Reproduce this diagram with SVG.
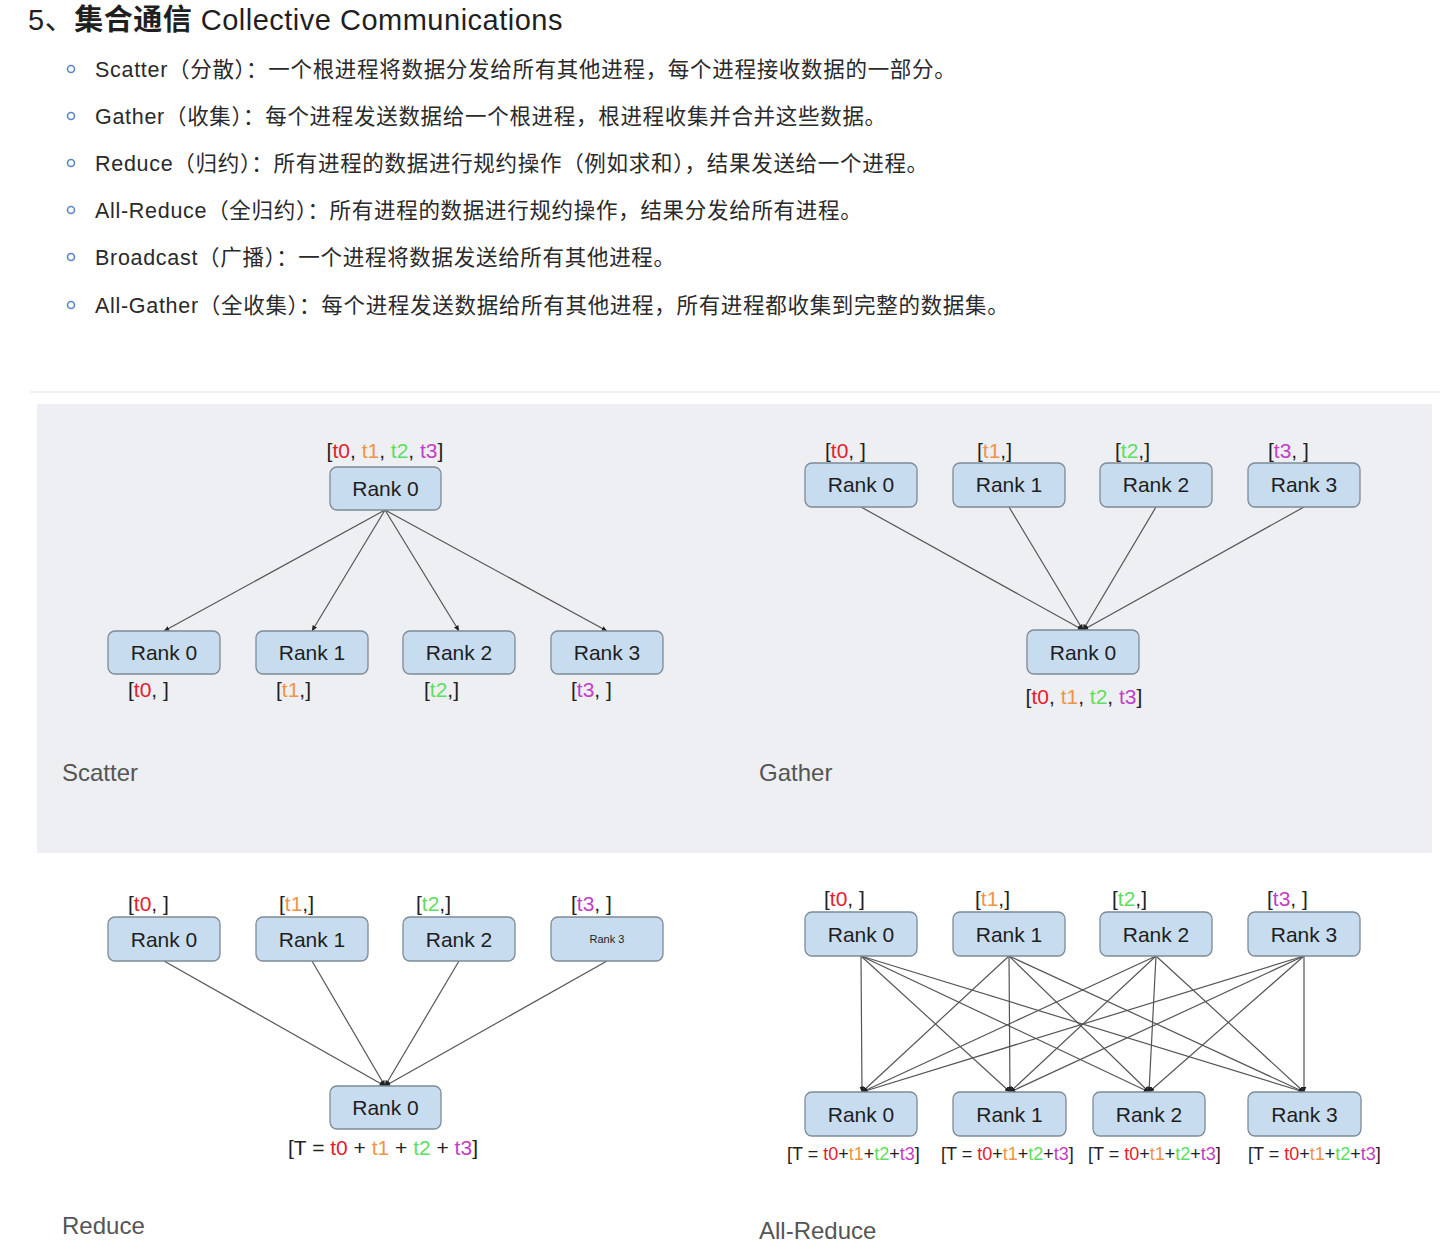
<svg xmlns="http://www.w3.org/2000/svg" width="1440" height="1255" viewBox="0 0 1440 1255">
<style>
.title{font-family:"Liberation Sans","Noto Sans CJK SC",sans-serif;font-size:29px;fill:#1f1f1f;letter-spacing:0.5px}
.bul{font-family:"Liberation Sans","Noto Sans CJK SC",sans-serif;font-size:21.5px;fill:#2a2a2a;letter-spacing:0.7px}
.dot{fill:none;stroke:#5a86c8;stroke-width:1.6}
.node rect{fill:#c7dcee;stroke:#7d8a97;stroke-width:1.3}
.node text{font-family:"Liberation Sans",Arial,sans-serif;font-size:21px;fill:#1e1e1e;text-anchor:middle}
.lbl{font-family:"Liberation Sans",Arial,sans-serif;font-size:21px;fill:#222}
.lbls{font-family:"Liberation Sans",Arial,sans-serif;font-size:18px;fill:#222}
.c0{fill:#e3202c}.c1{fill:#ef9447}.c2{fill:#5ede5e}.c3{fill:#c23ec6}
.sec{font-family:"Liberation Sans","Noto Sans",sans-serif;font-size:24px;fill:#555}
.edges line{stroke:#555;stroke-width:1.2;marker-end:url(#ah)}
</style>
<defs>
<marker id="ah" markerWidth="6" markerHeight="5" refX="5.5" refY="2.5" orient="auto" markerUnits="userSpaceOnUse">
<path d="M0,0 L6,2.5 L0,5 Z" fill="#222"/>
</marker>
</defs>
<rect x="0" y="0" width="1440" height="1255" fill="#ffffff"/>
<text class="title" x="28" y="30">5、<tspan font-weight="bold">集合通信</tspan> Collective Communications</text>
<g id="bullets">
<circle class="dot" cx="71" cy="69" r="3.5"/><text class="bul" x="95" y="77">Scatter（分散）：一个根进程将数据分发给所有其他进程，每个进程接收数据的一部分。</text>
<circle class="dot" cx="71" cy="116" r="3.5"/><text class="bul" x="95" y="124">Gather（收集）：每个进程发送数据给一个根进程，根进程收集并合并这些数据。</text>
<circle class="dot" cx="71" cy="163" r="3.5"/><text class="bul" x="95" y="171">Reduce（归约）：所有进程的数据进行规约操作（例如求和），结果发送给一个进程。</text>
<circle class="dot" cx="71" cy="210" r="3.5"/><text class="bul" x="95" y="218">All-Reduce（全归约）：所有进程的数据进行规约操作，结果分发给所有进程。</text>
<circle class="dot" cx="71" cy="257" r="3.5"/><text class="bul" x="95" y="265">Broadcast（广播）：一个进程将数据发送给所有其他进程。</text>
<circle class="dot" cx="71" cy="305" r="3.5"/><text class="bul" x="95" y="313">All-Gather（全收集）：每个进程发送数据给所有其他进程，所有进程都收集到完整的数据集。</text>
</g>
<rect x="30" y="391" width="1410" height="2" fill="#f1f1f3"/>
<rect x="37" y="404" width="1395" height="449" fill="#eeeff2"/>

<g class="edges" id="connectors">
<line x1="385" y1="510" x2="164" y2="631"/>
<line x1="385" y1="510" x2="312" y2="631"/>
<line x1="385" y1="510" x2="459" y2="631"/>
<line x1="385" y1="510" x2="607" y2="631"/>
<line x1="861" y1="507" x2="1083" y2="630"/>
<line x1="1009" y1="507" x2="1083" y2="630"/>
<line x1="1156" y1="507" x2="1083" y2="630"/>
<line x1="1304" y1="507" x2="1083" y2="630"/>
<line x1="164" y1="961" x2="385" y2="1086"/>
<line x1="312" y1="961" x2="385" y2="1086"/>
<line x1="459" y1="961" x2="385" y2="1086"/>
<line x1="607" y1="961" x2="385" y2="1086"/>
<line x1="861" y1="956" x2="862" y2="1092"/>
<line x1="861" y1="956" x2="1010" y2="1092"/>
<line x1="861" y1="956" x2="1149" y2="1092"/>
<line x1="861" y1="956" x2="1304" y2="1092"/>
<line x1="1009" y1="956" x2="862" y2="1092"/>
<line x1="1009" y1="956" x2="1010" y2="1092"/>
<line x1="1009" y1="956" x2="1149" y2="1092"/>
<line x1="1009" y1="956" x2="1304" y2="1092"/>
<line x1="1156" y1="956" x2="862" y2="1092"/>
<line x1="1156" y1="956" x2="1010" y2="1092"/>
<line x1="1156" y1="956" x2="1149" y2="1092"/>
<line x1="1156" y1="956" x2="1304" y2="1092"/>
<line x1="1304" y1="956" x2="862" y2="1092"/>
<line x1="1304" y1="956" x2="1010" y2="1092"/>
<line x1="1304" y1="956" x2="1149" y2="1092"/>
<line x1="1304" y1="956" x2="1304" y2="1092"/>
</g>

<g id="scatter-root" class="node"><rect x="330" y="467" width="111" height="43" rx="7"/><text x="385.5" y="496">Rank 0</text></g>
<text class="lbl" x="385" y="458" text-anchor="middle">[<tspan class="c0">t0</tspan>, <tspan class="c1">t1</tspan>, <tspan class="c2">t2</tspan>, <tspan class="c3">t3</tspan>]</text>
<g id="scatter-r0" class="node"><rect x="108" y="631" width="112" height="43" rx="7"/><text x="164" y="660">Rank 0</text></g>
<g id="scatter-r1" class="node"><rect x="256" y="631" width="112" height="43" rx="7"/><text x="312" y="660">Rank 1</text></g>
<g id="scatter-r2" class="node"><rect x="403" y="631" width="112" height="43" rx="7"/><text x="459" y="660">Rank 2</text></g>
<g id="scatter-r3" class="node"><rect x="551" y="631" width="112" height="43" rx="7"/><text x="607" y="660">Rank 3</text></g>
<text class="lbl" x="128" y="697">[<tspan class="c0">t0</tspan>, ]</text>
<text class="lbl" x="276" y="697">[<tspan class="c1">t1</tspan>,]</text>
<text class="lbl" x="424" y="697">[<tspan class="c2">t2</tspan>,]</text>
<text class="lbl" x="571" y="697">[<tspan class="c3">t3</tspan>, ]</text>
<text class="sec" x="62" y="781">Scatter</text>

<g id="gather-r0" class="node"><rect x="805" y="463" width="112" height="44" rx="7"/><text x="861" y="492">Rank 0</text></g>
<g id="gather-r1" class="node"><rect x="953" y="463" width="112" height="44" rx="7"/><text x="1009" y="492">Rank 1</text></g>
<g id="gather-r2" class="node"><rect x="1100" y="463" width="112" height="44" rx="7"/><text x="1156" y="492">Rank 2</text></g>
<g id="gather-r3" class="node"><rect x="1248" y="463" width="112" height="44" rx="7"/><text x="1304" y="492">Rank 3</text></g>
<text class="lbl" x="825" y="458">[<tspan class="c0">t0</tspan>, ]</text>
<text class="lbl" x="977" y="458">[<tspan class="c1">t1</tspan>,]</text>
<text class="lbl" x="1115" y="458">[<tspan class="c2">t2</tspan>,]</text>
<text class="lbl" x="1268" y="458">[<tspan class="c3">t3</tspan>, ]</text>
<g id="gather-root" class="node"><rect x="1027" y="630" width="112" height="44" rx="7"/><text x="1083" y="660">Rank 0</text></g>
<text class="lbl" x="1084" y="704" text-anchor="middle">[<tspan class="c0">t0</tspan>, <tspan class="c1">t1</tspan>, <tspan class="c2">t2</tspan>, <tspan class="c3">t3</tspan>]</text>
<text class="sec" x="759" y="781">Gather</text>

<g id="reduce-r0" class="node"><rect x="108" y="917" width="112" height="44" rx="7"/><text x="164" y="947">Rank 0</text></g>
<g id="reduce-r1" class="node"><rect x="256" y="917" width="112" height="44" rx="7"/><text x="312" y="947">Rank 1</text></g>
<g id="reduce-r2" class="node"><rect x="403" y="917" width="112" height="44" rx="7"/><text x="459" y="947">Rank 2</text></g>
<g id="reduce-r3" class="node"><rect x="551" y="917" width="112" height="44" rx="7"/><text x="607" y="943" style="font-size:11px">Rank 3</text></g>
<text class="lbl" x="128" y="911">[<tspan class="c0">t0</tspan>, ]</text>
<text class="lbl" x="279" y="911">[<tspan class="c1">t1</tspan>,]</text>
<text class="lbl" x="416" y="911">[<tspan class="c2">t2</tspan>,]</text>
<text class="lbl" x="571" y="911">[<tspan class="c3">t3</tspan>, ]</text>
<g id="reduce-root" class="node"><rect x="330" y="1086" width="111" height="43" rx="7"/><text x="385.5" y="1115">Rank 0</text></g>
<text class="lbl" x="383" y="1155" text-anchor="middle">[T = <tspan class="c0">t0</tspan> + <tspan class="c1">t1</tspan> + <tspan class="c2">t2</tspan> + <tspan class="c3">t3</tspan>]</text>
<text class="sec" x="62" y="1234">Reduce</text>

<g id="ar-top-r0" class="node"><rect x="805" y="912" width="112" height="44" rx="7"/><text x="861" y="942">Rank 0</text></g>
<g id="ar-top-r1" class="node"><rect x="953" y="912" width="112" height="44" rx="7"/><text x="1009" y="942">Rank 1</text></g>
<g id="ar-top-r2" class="node"><rect x="1100" y="912" width="112" height="44" rx="7"/><text x="1156" y="942">Rank 2</text></g>
<g id="ar-top-r3" class="node"><rect x="1248" y="912" width="112" height="44" rx="7"/><text x="1304" y="942">Rank 3</text></g>
<text class="lbl" x="824" y="906">[<tspan class="c0">t0</tspan>, ]</text>
<text class="lbl" x="975" y="906">[<tspan class="c1">t1</tspan>,]</text>
<text class="lbl" x="1112" y="906">[<tspan class="c2">t2</tspan>,]</text>
<text class="lbl" x="1267" y="906">[<tspan class="c3">t3</tspan>, ]</text>
<g id="ar-bot-r0" class="node"><rect x="805" y="1092" width="112" height="44" rx="7"/><text x="861" y="1122">Rank 0</text></g>
<g id="ar-bot-r1" class="node"><rect x="953" y="1092" width="113" height="44" rx="7"/><text x="1009.5" y="1122">Rank 1</text></g>
<g id="ar-bot-r2" class="node"><rect x="1093" y="1092" width="112" height="44" rx="7"/><text x="1149" y="1122">Rank 2</text></g>
<g id="ar-bot-r3" class="node"><rect x="1248" y="1092" width="113" height="44" rx="7"/><text x="1304.5" y="1122">Rank 3</text></g>
<text class="lbls" x="787" y="1160">[T = <tspan class="c0">t0</tspan>+<tspan class="c1">t1</tspan>+<tspan class="c2">t2</tspan>+<tspan class="c3">t3</tspan>]</text>
<text class="lbls" x="941" y="1160">[T = <tspan class="c0">t0</tspan>+<tspan class="c1">t1</tspan>+<tspan class="c2">t2</tspan>+<tspan class="c3">t3</tspan>]</text>
<text class="lbls" x="1088" y="1160">[T = <tspan class="c0">t0</tspan>+<tspan class="c1">t1</tspan>+<tspan class="c2">t2</tspan>+<tspan class="c3">t3</tspan>]</text>
<text class="lbls" x="1248" y="1160">[T = <tspan class="c0">t0</tspan>+<tspan class="c1">t1</tspan>+<tspan class="c2">t2</tspan>+<tspan class="c3">t3</tspan>]</text>
<text class="sec" x="759" y="1239">All-Reduce</text>
</svg>
